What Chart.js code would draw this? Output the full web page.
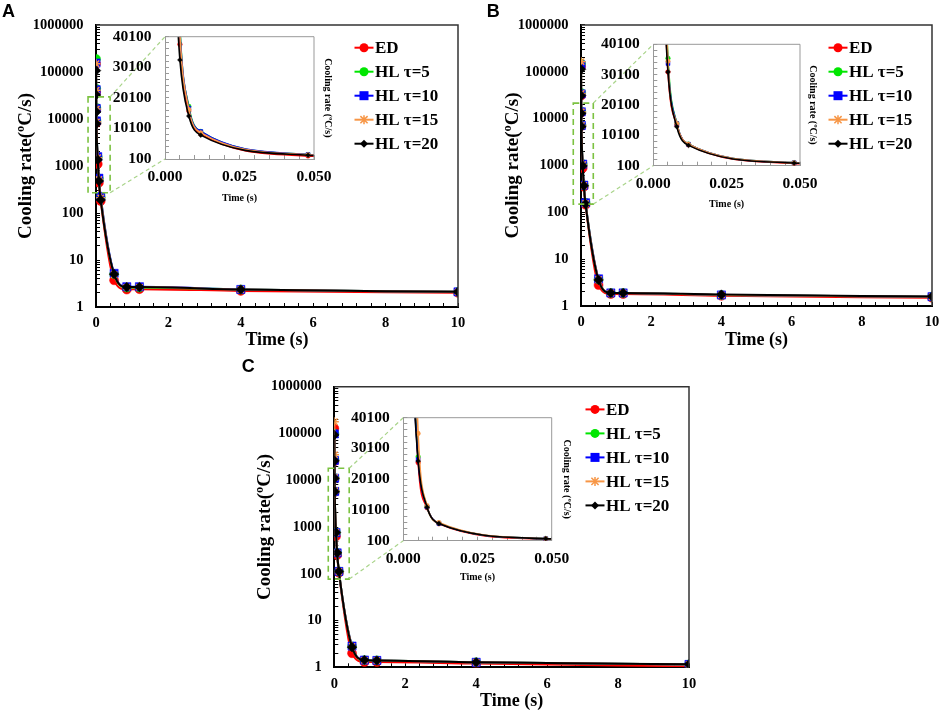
<!DOCTYPE html>
<html><head><meta charset="utf-8">
<script src="https://cdn.jsdelivr.net/npm/chart.js@4/dist/chart.umd.min.js"></script>
<style>
html,body{margin:0;padding:0;background:#fff;}
#wrap{position:relative;width:941px;height:713px;overflow:hidden;background:#fff;}
canvas{position:absolute;}
</style></head><body><div id="wrap">
<canvas id="mainA" width="470" height="355" style="left:0px;top:0px"></canvas>
<canvas id="mainB" width="471" height="355" style="left:470px;top:0px"></canvas>
<canvas id="mainC" width="480" height="357" style="left:230px;top:356px"></canvas>
<canvas id="insA" width="240" height="185" style="left:100px;top:25px"></canvas>
<canvas id="insB" width="240" height="185" style="left:588px;top:30px"></canvas>
<canvas id="insC" width="240" height="185" style="left:338px;top:405px"></canvas>
</div>
<script>
// ---------------- DATA ----------------
const timeS = [0.001, 0.005, 0.008, 0.012, 0.048, 0.08, 0.13, 0.5, 0.85, 1.2, 4, 10];
const seriesNames = ['ED', 'HL τ=5', 'HL τ=10', 'HL τ=15', 'HL τ=20'];

const aED   = [150000, 37600, 15800, 8300, 1100, 440, 180, 3.7, 2.35, 2.4, 2.2, 2.0];
const aHL5  = [190000, 44000, 17300, 9100, 1550, 540, 215, 5.0, 2.6, 2.6, 2.35, 2.1];
const aHL10 = [155000, 42000, 16750, 9100, 1580, 550, 224, 5.2, 2.7, 2.7, 2.36, 2.1];
const aHL15 = [150000, 41000, 16300, 8700, 1500, 520, 210, 4.9, 2.65, 2.65, 2.35, 2.1];
const aHL20 = [107000, 32500, 14150, 7900, 1350, 480, 190, 5.0, 2.65, 2.65, 2.35, 2.1];

const bED   = [130000, 31000, 13500, 7000, 880, 350, 145, 2.8, 1.8, 1.8, 1.65, 1.5];
const bHL5  = [150000, 35500, 14100, 7200, 1070, 380, 160, 3.7, 1.9, 1.9, 1.72, 1.58];
const bHL10 = [140000, 33800, 14000, 7150, 1070, 380, 160, 3.8, 1.9, 1.9, 1.72, 1.58];
const bHL15 = [165000, 34500, 14000, 7150, 1050, 375, 155, 3.7, 1.9, 1.9, 1.72, 1.58];
const bHL20 = [113000, 31000, 12950, 6800, 980, 370, 150, 3.6, 1.9, 1.9, 1.75, 1.6];

const cED   = [129000, 25500, 10800, 5600, 630, 250, 105, 2.0, 1.3, 1.3, 1.2, 1.05];
const cHL5  = [100000, 27400, 11100, 5750, 760, 280, 112, 2.8, 1.42, 1.4, 1.28, 1.15];
const cHL10 = [98000, 26500, 11100, 5750, 760, 280, 112, 2.85, 1.43, 1.4, 1.28, 1.15];
const cHL15 = [178000, 35000, 11500, 6000, 760, 280, 112, 2.8, 1.42, 1.4, 1.28, 1.15];
const cHL20 = [93000, 26000, 11000, 5700, 760, 280, 112, 2.7, 1.43, 1.4, 1.28, 1.16];

const mainYTicks = [1, 10, 100, 1000, 10000, 100000, 1000000];
const mainXTicks = [0, 2, 4, 6, 8, 10];
const insetYTicks = [100, 10100, 20100, 30100, 40100];
const insetXTicks = [0, 0.025, 0.05];

// ---------------- STYLE ----------------
const SERIF = "'Liberation Serif', 'Times New Roman', serif";
Chart.defaults.font.family = SERIF;
Chart.defaults.font.weight = 'bold';
Chart.defaults.color = '#000';

const COLORS = ['#ff0000', '#00e600', '#0000ff', '#f79646', '#000000'];
const STYLES = ['circle', 'circle', 'rect', 'star', 'rectRot'];
const MAIN_R = [4.5, 4.5, 5.8, 4.5, 4.8];
const INS_R = [2.3, 2.3, 2.8, 2.5, 2.4];

function drawMarker(ctx, style, x, y, r, color) {
  ctx.save();
  ctx.fillStyle = color; ctx.strokeStyle = color; ctx.lineWidth = 1.5;
  ctx.beginPath();
  if (style === 'circle') { ctx.arc(x, y, r, 0, Math.PI * 2); ctx.fill(); }
  else if (style === 'rect') { const s = r; ctx.fillRect(x - s, y - s, 2 * s, 2 * s); }
  else if (style === 'rectRot') { ctx.moveTo(x, y - r); ctx.lineTo(x + r, y); ctx.lineTo(x, y + r); ctx.lineTo(x - r, y); ctx.closePath(); ctx.fill(); }
  else if (style === 'star') { const s = r * 0.8; ctx.moveTo(x - s, y - s); ctx.lineTo(x + s, y + s); ctx.moveTo(x + s, y - s); ctx.lineTo(x - s, y + s); ctx.moveTo(x, y - r); ctx.lineTo(x, y + r); ctx.stroke(); }
  ctx.restore();
}

function noPad(s) { s.paddingLeft = 0; s.paddingRight = 0; s.paddingTop = 0; s.paddingBottom = 0; }

const framePlugin = {
  id: 'frame',
  afterDatasetsDraw(chart, args, o) {
    const {ctx, chartArea: a} = chart;
    ctx.save();
    ctx.strokeStyle = o.color; ctx.lineWidth = o.width;
    ctx.beginPath();
    ctx.moveTo(a.left, a.top); ctx.lineTo(a.right, a.top); ctx.lineTo(a.right, a.bottom);
    ctx.stroke();
    ctx.restore();
  }
};

const INSETS = {};
const zoomPlugin = {
  id: 'zoomBox',
  afterDatasetsDraw(chart, args, o) {
    if (!o.key) return;
    const ins = INSETS[o.key];
    const xs = chart.scales.x, ys = chart.scales.y, ctx = chart.ctx;
    const x1 = xs.getPixelForValue(o.x0), x2 = xs.getPixelForValue(o.x1);
    const yTop = ys.getPixelForValue(o.y1), yBot = ys.getPixelForValue(o.y0);
    ctx.save();
    ctx.strokeStyle = '#7cc242'; ctx.lineWidth = 1.6; ctx.setLineDash([6, 4]);
    ctx.strokeRect(x1, yTop, x2 - x1, yBot - yTop);
    if (ins) {
      const dx = ins.canvas.offsetLeft - chart.canvas.offsetLeft;
      const dy = ins.canvas.offsetTop - chart.canvas.offsetTop;
      const ia = ins.chartArea;
      ctx.strokeStyle = '#a9d48a'; ctx.lineWidth = 1.2; ctx.setLineDash([4, 3]);
      ctx.beginPath();
      ctx.moveTo(x2, yTop); ctx.lineTo(ia.left + dx, ia.top + dy);
      ctx.moveTo(x2, yBot); ctx.lineTo(ia.left + dx, ia.bottom + dy);
      ctx.stroke();
    }
    ctx.restore();
  }
};

const legendPlugin = {
  id: 'lineLegend',
  afterDraw(chart, args, o) {
    const {ctx, chartArea: a} = chart;
    ctx.save();
    chart.data.datasets.forEach((d, i) => {
      const cx = a.right - o.dx, cy = a.top + o.dy + i * o.gap;
      ctx.strokeStyle = d.borderColor; ctx.lineWidth = 2;
      ctx.beginPath(); ctx.moveTo(cx - o.half, cy); ctx.lineTo(cx + o.half, cy); ctx.stroke();
      drawMarker(ctx, d.pointStyle, cx, cy, o.r[i], d.borderColor);
      ctx.fillStyle = '#000'; ctx.font = 'bold 17px ' + SERIF;
      ctx.textBaseline = 'middle'; ctx.textAlign = 'left';
      ctx.fillText(d.label, cx + o.textGap, cy + 1);
    });
    ctx.restore();
  }
};

function buildSets(series, radii, lw) {
  return series.map((vals, i) => ({
    label: seriesNames[i],
    data: timeS.map((t, j) => ({x: t, y: vals[j]})),
    borderColor: COLORS[i],
    backgroundColor: COLORS[i],
    pointStyle: STYLES[i],
    pointRadius: radii[i],
    pointBorderWidth: STYLES[i] === 'star' ? 1.5 : 0.5,
    pointBorderColor: COLORS[i],
    borderWidth: lw,
    cubicInterpolationMode: 'monotone',
    fill: false,
    order: series.length - i
  }));
}

function mainChart(id, letter, series, g, zoom) {
  return new Chart(document.getElementById(id), {
    type: 'line',
    data: {datasets: buildSets(series, MAIN_R, 2)},
    options: {
      responsive: false, animation: false, events: [],
      layout: {padding: {left: g.padL, right: g.padR, top: 0, bottom: 0}},
      plugins: {
        legend: {display: false}, tooltip: {enabled: false},
        title: {display: true, text: letter, align: 'start', color: '#000',
          font: {family: "'Liberation Sans', Arial, sans-serif", weight: 'bold', size: 18},
          padding: {top: g.tTop, bottom: g.tBot}},
        frame: {color: '#333', width: 1.5},
        zoomBox: zoom,
        lineLegend: {dx: 94, dy: 22.7, gap: 24, half: 9.5, textGap: 11, r: [4.5, 4.5, 4.5, 4.5, 4]}
      },
      scales: {
        x: {
          type: 'linear', min: 0, max: 10,
          ticks: {stepSize: 0.4, autoSkip: false, maxRotation: 0, padding: 12,
            font: {size: 14.5, weight: 'bold'},
            callback: (v) => mainXTicks.includes(v) ? String(v) : ''},
          grid: {drawOnChartArea: false, tickLength: -4, color: '#000', lineWidth: 1},
          border: {color: '#000', width: 2},
          title: {display: true, text: 'Time (s)', font: {size: 18, weight: 'bold'}, padding: {top: 0, bottom: g.xtPad}},
          afterFit: (s) => { s.height = g.xH; noPad(s); }
        },
        y: {
          type: 'logarithmic', min: 1, max: 1000000,
          afterBuildTicks: (s) => {
            const t = [];
            for (let e = 0; e < 6; e++) for (let m = 1; m < 10; m++) t.push({value: m * Math.pow(10, e)});
            t.push({value: 1000000});
            s.ticks = t;
          },
          ticks: {autoSkip: false, padding: 16.5, font: {size: 14.5, weight: 'bold'},
            callback: (v) => mainYTicks.includes(v) ? String(v) : ''},
          grid: {drawOnChartArea: false, tickLength: -4, color: '#000', lineWidth: 1},
          border: {color: '#000', width: 2},
          title: {display: true, text: 'Cooling rate(ºC/s)', font: {size: 19, weight: 'bold'}, padding: {top: g.ytPad, bottom: 0}},
          afterFit: (s) => { s.width = g.yW; noPad(s); }
        }
      }
    },
    plugins: [framePlugin, zoomPlugin, legendPlugin]
  });
}

function insetChart(id, series, g) {
  return new Chart(document.getElementById(id), {
    type: 'line',
    data: {datasets: buildSets(series, INS_R, 1.6)},
    options: {
      responsive: false, animation: false, events: [],
      layout: {padding: {left: 0, right: 0, top: g.top, bottom: 0}},
      plugins: {legend: {display: false}, tooltip: {enabled: false}, frame: {color: '#999', width: 1}},
      scales: {
        x: {
          type: 'linear', min: 0, max: 0.05,
          ticks: {stepSize: 0.005, autoSkip: false, maxRotation: 0, padding: 12.7,
            font: {size: 15.5, weight: 'bold'},
            callback: (v) => insetXTicks.some(t => Math.abs(t - v) < 1e-9) ? v.toFixed(3) : ''},
          grid: {drawOnChartArea: false, tickLength: -4, color: '#999', lineWidth: 1},
          border: {color: '#999', width: 1},
          title: {display: true, text: 'Time (s)', font: {size: 10, weight: 'bold'}, padding: {top: 0, bottom: g.xtPad}},
          afterFit: (s) => { s.height = g.xH; noPad(s); }
        },
        y: {
          type: 'linear', min: 100, max: 40100,
          ticks: {stepSize: 2000, autoSkip: false, padding: 17.5, font: {size: 15.5, weight: 'bold'},
            callback: (v) => insetYTicks.includes(v) ? String(v) : ''},
          grid: {drawOnChartArea: false, tickLength: -4, color: '#999', lineWidth: 1},
          border: {color: '#999', width: 1},
          afterFit: (s) => { s.width = g.yW; noPad(s); }
        },
        y2: {
          type: 'linear', position: 'right', min: 100, max: 40100,
          ticks: {display: false},
          grid: {display: false, drawTicks: false},
          border: {display: false},
          title: {display: true, text: 'Cooling rate (ºC/s)', font: {size: 10, weight: 'bold'}, padding: {top: g.ytPad, bottom: 0}},
          afterFit: (s) => { s.width = g.y2W; noPad(s); }
        }
      }
    },
    plugins: [framePlugin]
  });
}

INSETS.A = insetChart('insA', [aED, aHL5, aHL10, aHL15, aHL20], {top: 11.7, yW: 65, y2W: 26, ytPad: 6, xH: 51, xtPad: 6});
INSETS.B = insetChart('insB', [bED, bHL5, bHL10, bHL15, bHL20], {top: 14.3, yW: 65.3, y2W: 28, ytPad: 9, xH: 49.3, xtPad: 5});
INSETS.C = insetChart('insC', [cED, cHL5, cHL10, cHL15, cHL20], {top: 12.7, yW: 65.3, y2W: 26.3, ytPad: 5.3, xH: 49.3, xtPad: 6.3});

mainChart('mainA', 'A', [aED, aHL5, aHL10, aHL15, aHL20],
  {padL: 2, padR: 12, tTop: 1.5, tBot: 1.9, yW: 94, xH: 48, ytPad: 12.6, xtPad: 4.2},
  {key: 'A', x0: -0.22, x1: 0.39, y0: 270, y1: 29500});
mainChart('mainB', 'B', [bED, bHL5, bHL10, bHL15, bHL20],
  {padL: 16.7, padR: 9, tTop: 1.5, tBot: 1.9, yW: 94.3, xH: 49, ytPad: 15.2, xtPad: 4.2},
  {key: 'B', x0: -0.22, x1: 0.35, y0: 150, y1: 21500});
mainChart('mainC', 'C', [cED, cHL5, cHL10, cHL15, cHL20],
  {padL: 11.7, padR: 21, tTop: 0.7, tBot: 8.4, yW: 92.6, xH: 45.7, ytPad: 12.4, xtPad: 1.2},
  {key: 'C', x0: -0.17, x1: 0.42, y0: 77, y1: 18000});
</script>
</body></html>
